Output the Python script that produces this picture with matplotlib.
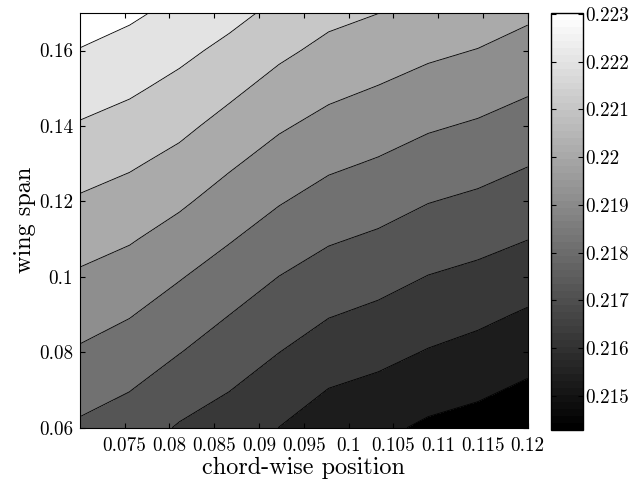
import numpy as np
import matplotlib
matplotlib.use("Agg")
import matplotlib.pyplot as plt
from matplotlib.colors import Normalize

plt.rcParams['font.family'] = 'serif'
plt.rcParams['font.serif'] = ['cmr10']
plt.rcParams['mathtext.fontset'] = 'cm'
plt.rcParams['axes.unicode_minus'] = False

# chord-wise positions (columns) and wing span positions (rows)
chord = [0.07, 0.075556, 0.081111, 0.086667, 0.092222,
         0.097778, 0.103333, 0.108889, 0.114444, 0.12]
span = [0.06, 0.07, 0.08, 0.09, 0.10, 0.11, 0.12, 0.13, 0.14, 0.15, 0.16, 0.17]

# values, one list per chord-wise column (bottom -> top)
col0 = [0.217656, 0.218152, 0.218648, 0.219117, 0.219580, 0.220062,
        0.220552, 0.221041, 0.221531, 0.222027, 0.222523, 0.223019]
col1 = [0.217334, 0.217822, 0.218312, 0.218802, 0.219291, 0.219783,
        0.220276, 0.220768, 0.221258, 0.221747, 0.222232, 0.222716]
col2 = [0.216766, 0.217295, 0.217824, 0.218315, 0.218810, 0.219332,
        0.219852, 0.220375, 0.220876, 0.221356, 0.221834, 0.222312]
col3 = [0.216403, 0.216870, 0.217339, 0.217807, 0.218312, 0.218818,
        0.219316, 0.219821, 0.220345, 0.220865, 0.221376, 0.221886]
col4 = [0.215889, 0.216371, 0.216856, 0.217323, 0.217791, 0.218304,
        0.218814, 0.219313, 0.219814, 0.220328, 0.220847, 0.221378]
col5 = [0.215361, 0.215874, 0.216388, 0.216898, 0.217393, 0.217892,
        0.218399, 0.218907, 0.219419, 0.219923, 0.220413, 0.220902]
col6 = [0.215154, 0.215655, 0.216156, 0.216657, 0.217157, 0.217659,
        0.218159, 0.218661, 0.219161, 0.219663, 0.220167, 0.220665]
col7 = [0.214792, 0.215317, 0.215843, 0.216336, 0.216825, 0.217327,
        0.217828, 0.218340, 0.218853, 0.219367, 0.219879, 0.220392]
col8 = [0.214600, 0.215101, 0.215602, 0.216108, 0.216620, 0.217128,
        0.217628, 0.218136, 0.218648, 0.219162, 0.219675, 0.220188]
col9 = [0.214289, 0.214791, 0.215293, 0.215794, 0.216324, 0.216862,
        0.217351, 0.217842, 0.218355, 0.218866, 0.219367, 0.219867]

levels = [0.213994, 0.214946, 0.215897, 0.216849, 0.217800, 0.218752,
          0.219704, 0.220655, 0.221607, 0.222558, 0.223510]

xticks = [0.075, 0.08, 0.085, 0.09, 0.095, 0.1, 0.105, 0.11, 0.115, 0.12]
xlabels = ['0.075', '0.08', '0.085', '0.09', '0.095', '0.1', '0.105', '0.11', '0.115', '0.12']
yticks = [0.06, 0.08, 0.10, 0.12, 0.14, 0.16]
ylabels = ['0.06', '0.08', '0.1', '0.12', '0.14', '0.16']
cticks = [0.215, 0.216, 0.217, 0.218, 0.219, 0.22, 0.221, 0.222, 0.223]
clabels = ['0.215', '0.216', '0.217', '0.218', '0.219', '0.22', '0.221', '0.222', '0.223']

Z = np.array([col0, col1, col2, col3, col4, col5, col6, col7, col8, col9]).T
X, Y = np.meshgrid(chord, span)

fig = plt.figure(figsize=(6.29, 4.83), dpi=100)
ax = fig.add_axes([0.127, 0.1145, 0.712, 0.859])
cax = fig.add_axes([0.8755, 0.110, 0.051, 0.863])

# band colours: old-style, first band black, last band white
mids = [(levels[i] + levels[i + 1]) / 2 for i in range(len(levels) - 1)]
ax.contourf(X, Y, Z, levels=levels, cmap='gray', vmin=mids[0], vmax=mids[-1])
ax.contour(X, Y, Z, levels=levels, colors='k', linewidths=0.6)

ax.set_xlim(0.07, 0.12)
ax.set_ylim(0.06, 0.17)
ax.set_xticks(xticks)
ax.set_xticklabels(xlabels)
ax.set_yticks(yticks)
ax.set_yticklabels(ylabels)
ax.tick_params(direction='in', top=True, right=True, length=3.5, labelsize=13.8)
ax.tick_params(axis='x', pad=7)
ax.tick_params(axis='y', pad=5)
ax.set_xlabel('chord-wise position', fontsize=17.5, labelpad=1)
ax.set_ylabel('wing span', fontsize=17.5, labelpad=2)

sm = plt.cm.ScalarMappable(norm=Normalize(Z.min(), Z.max()), cmap=plt.get_cmap('gray', 60))
cb = fig.colorbar(sm, cax=cax)
cb.set_ticks(cticks)
cb.set_ticklabels(clabels)
cax.tick_params(direction='in', left=True, right=True, length=3.5, labelsize=13.8, pad=2)
cb.outline.set_linewidth(1)

plt.savefig('out.png', dpi=100)
